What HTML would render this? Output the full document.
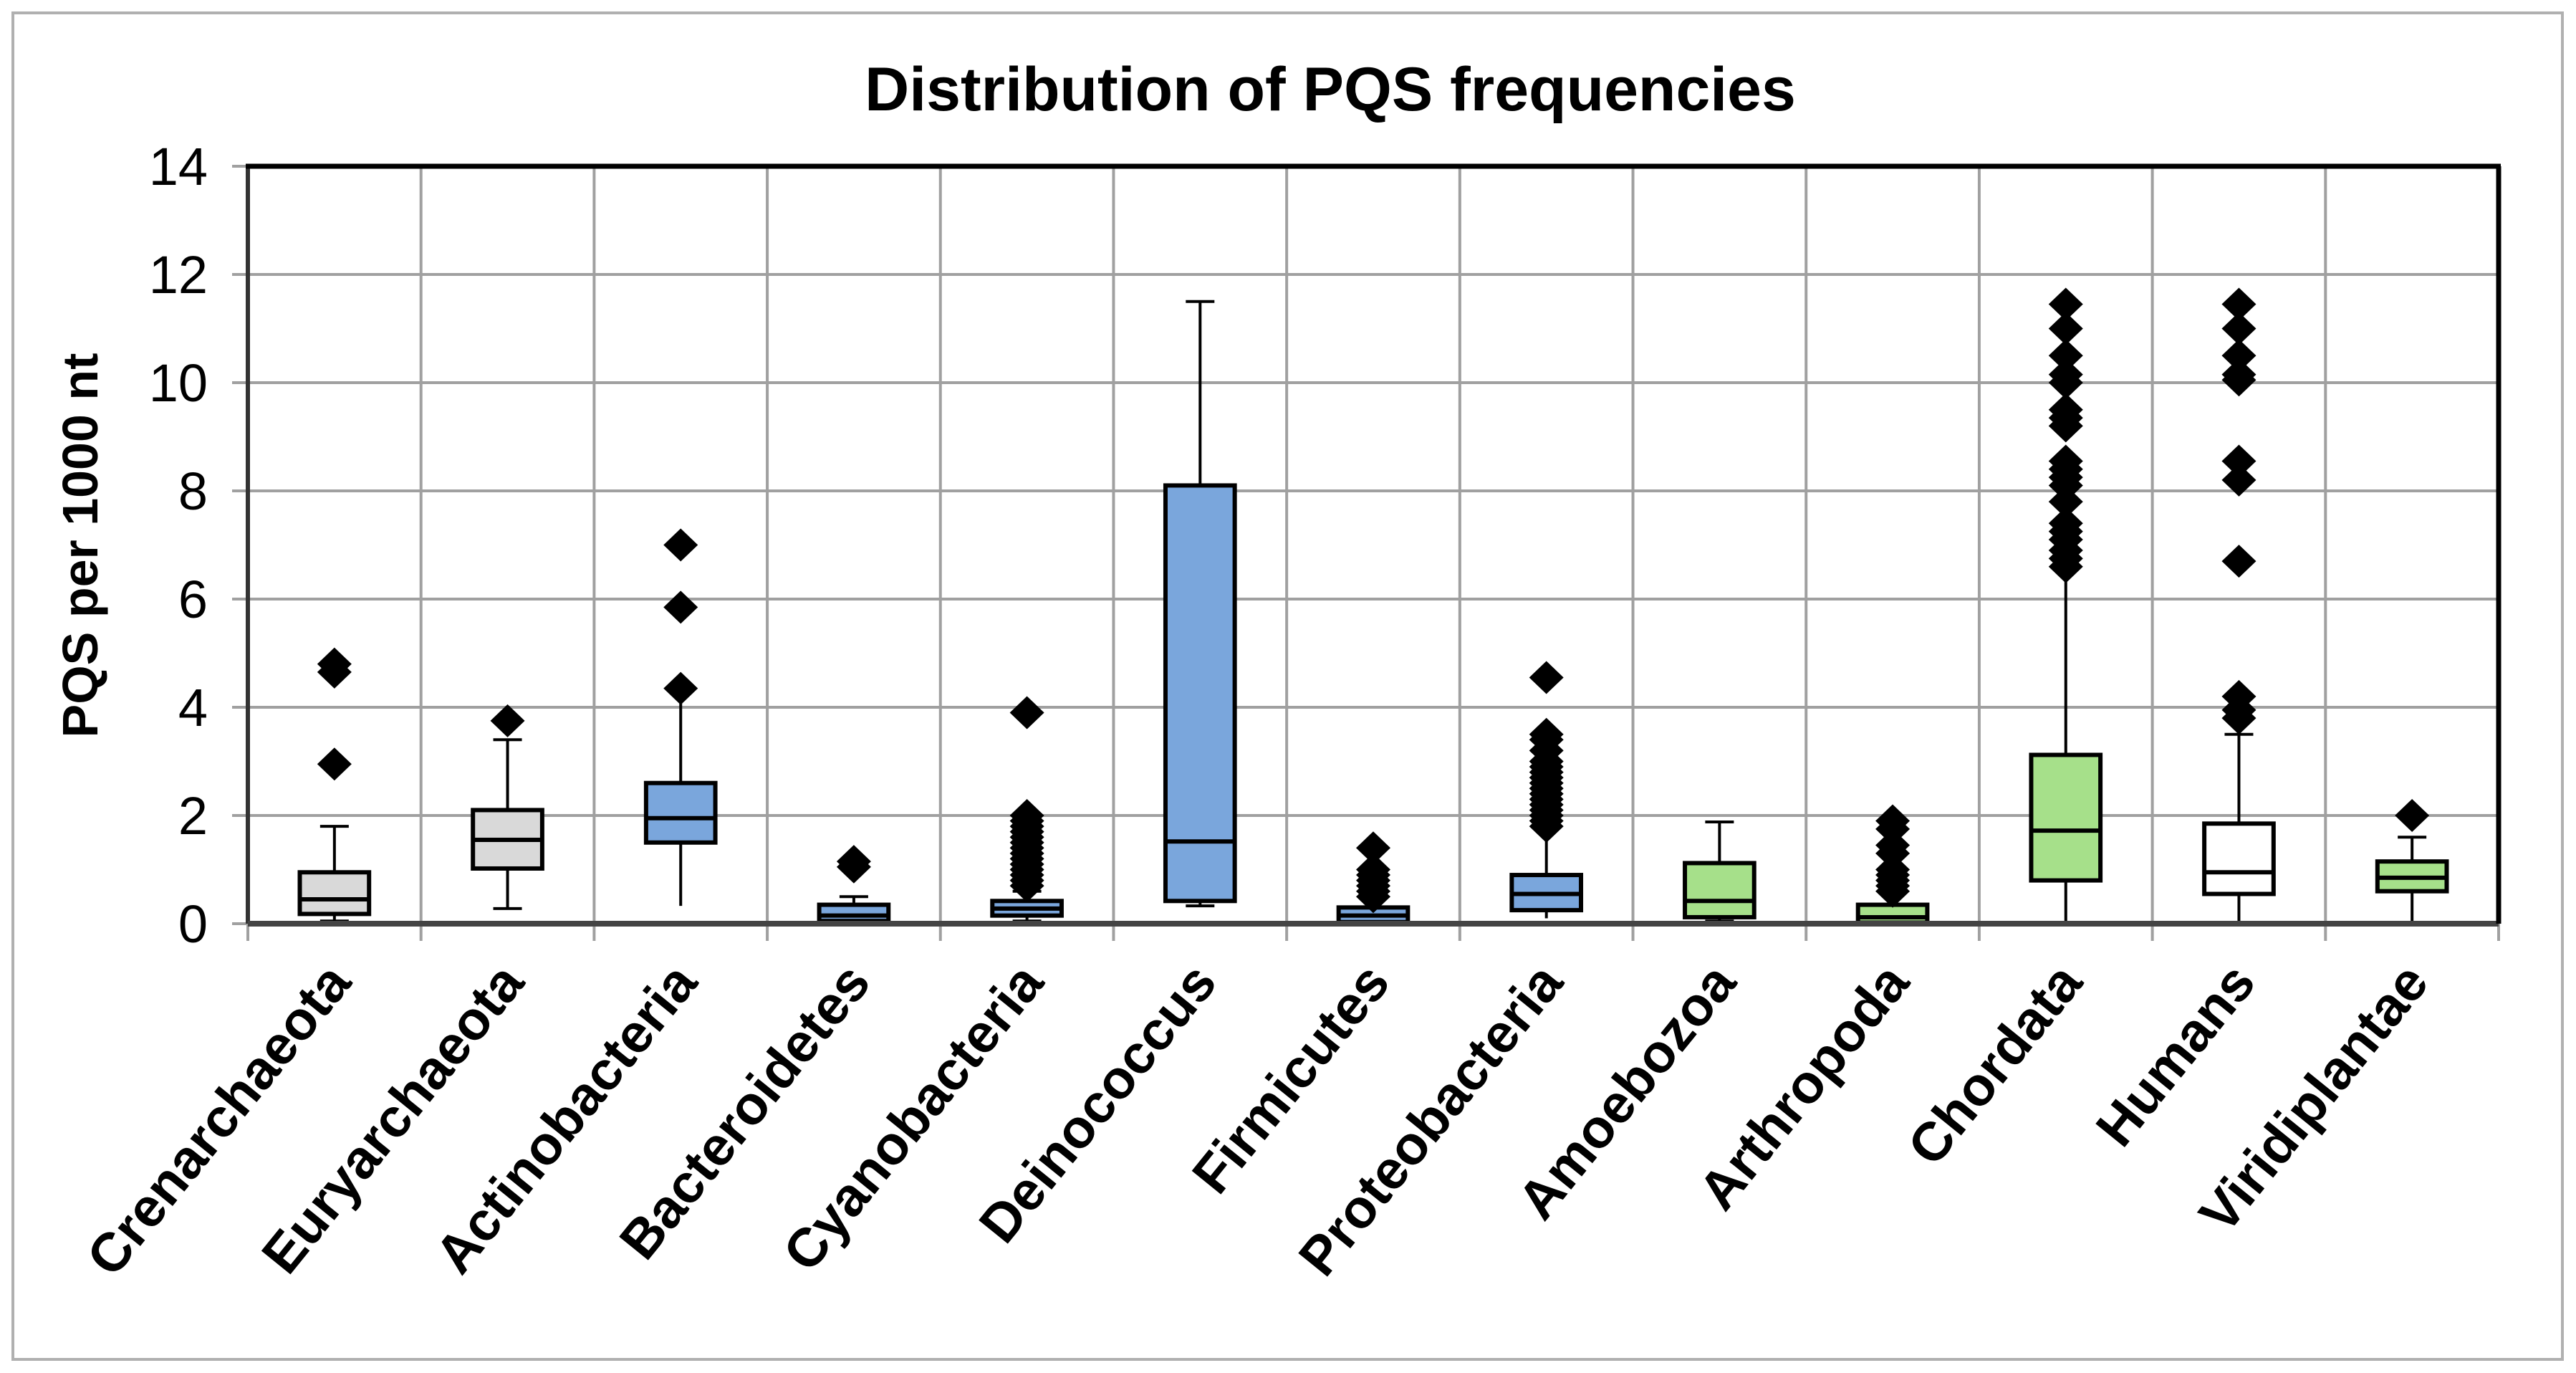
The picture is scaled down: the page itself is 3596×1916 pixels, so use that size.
<!DOCTYPE html>
<html><head><meta charset="utf-8"><style>
html,body{margin:0;padding:0;background:#fff;}
svg{display:block;font-family:"Liberation Sans",sans-serif;}
</style></head><body>
<svg id="chart" width="3596" height="1916" viewBox="0 0 3596 1916" xmlns="http://www.w3.org/2000/svg">
<rect x="18" y="18" width="3559" height="1879" fill="#fff" stroke="#b0b0b0" stroke-width="4"/>
<text x="1857" y="154" text-anchor="middle" font-size="86" font-weight="bold">Distribution of PQS frequencies</text>
<text transform="translate(136,761) rotate(-90)" text-anchor="middle" font-size="70" font-weight="bold">PQS per 1000 nt</text>
<g id="grid"></g>
<g id="boxes"></g>
<g id="axes"></g>
</svg>
<script>
const categories = ["Crenarchaeota","Euryarchaeota","Actinobacteria","Bacteroidetes","Cyanobacteria","Deinococcus","Firmicutes","Proteobacteria","Amoebozoa","Arthropoda","Chordata","Humans","Viridiplantae"];
const whiskerLow = [0.05,0.28,0.33,0.0,0.05,0.33,0.0,0.1,0.05,0.0,0.0,0.0,0.0];
const q1Values   = [0.18,1.02,1.5,0.05,0.15,0.42,0.03,0.25,0.12,0.02,0.8,0.55,0.6];
const medians    = [0.45,1.55,1.95,0.15,0.28,1.52,0.15,0.55,0.42,0.12,1.72,0.95,0.85];
const q3Values   = [0.95,2.1,2.6,0.35,0.42,8.1,0.3,0.9,1.12,0.35,3.12,1.85,1.15];
const whiskerHigh= [1.8,3.4,4.1,0.5,0.6,11.5,0.4,1.6,1.88,0.45,6.55,3.5,1.6];
const hasCap     = [true,true,false,true,true,true,false,false,true,false,false,true,true];
const outliers = [
 [2.95,4.65,4.8],
 [3.75],
 [4.35,5.85,7.0],
 [1.05,1.15],
 [0.7,0.8,0.9,1.0,1.1,1.2,1.3,1.4,1.5,1.6,1.7,1.8,1.9,2.0,3.9],
 [],
 [0.5,0.6,0.7,0.8,0.9,1.0,1.4],
 [1.8,1.9,2.0,2.1,2.2,2.3,2.4,2.5,2.6,2.7,2.8,2.9,3.0,3.2,3.4,3.5,4.55],
 [],
 [0.6,0.7,0.8,0.9,1.0,1.3,1.45,1.75,1.9],
 [6.6,6.75,6.9,7.1,7.25,7.4,7.8,8.1,8.25,8.4,8.55,9.2,9.35,9.5,10.0,10.15,10.5,11.0,11.45],
 [3.8,3.95,4.2,6.7,8.2,8.55,10.05,10.15,10.5,11.0,11.45],
 [2.0]
];
const fillColors = ["#d9d9d9","#d9d9d9","#7aa6dc","#7aa6dc","#7aa6dc","#7aa6dc","#7aa6dc","#7aa6dc","#a6e08a","#a6e08a","#a6e08a","#ffffff","#a6e08a"];
const yTicks = [0,2,4,6,8,10,12,14];

const NS="http://www.w3.org/2000/svg";
const L=346, R=3488, T=232, B=1289, YMAX=14;
const bw=(R-L)/categories.length;
function y(v){return B-(v/YMAX)*(B-T);}
function xc(i){return L+bw*(i+0.5);}
function mk(tag,attrs,parent){const e=document.createElementNS(NS,tag);for(const k in attrs)e.setAttribute(k,attrs[k]);parent.appendChild(e);return e;}
const grid=document.getElementById('grid'),boxes=document.getElementById('boxes'),axes=document.getElementById('axes');

yTicks.forEach(t=>{
  const g=mk('line',{x1:L-22,x2:R,y1:y(t),y2:y(t),stroke:'#a0a0a0','stroke-width':4},grid);
  
  
  const tx=mk('text',{x:290,y:y(t)+26,'text-anchor':'end','font-size':74},axes);
  tx.textContent=t;
  
  
});
for(let i=1;i<=categories.length;i++){
  const xx=L+bw*i;
  const g=mk('line',{x1:xx,x2:xx,y1:T,y2:B+24,stroke:'#a0a0a0','stroke-width':4},grid);
  
  
}
const t0=mk('line',{x1:L,x2:L,y1:B,y2:B+24,stroke:'#a0a0a0','stroke-width':4},grid);



categories.forEach((c,i)=>{
  const g=mk('g',{},boxes);
  
  
  const cx=xc(i), hw=bw*0.2;
  mk('line',{x1:cx,x2:cx,y1:y(whiskerLow[i]),y2:y(q1Values[i]),stroke:'#000','stroke-width':4},g);
  mk('line',{x1:cx,x2:cx,y1:y(q3Values[i]),y2:y(whiskerHigh[i]),stroke:'#000','stroke-width':4},g);
  if(hasCap[i]){
    mk('line',{x1:cx-20,x2:cx+20,y1:y(whiskerHigh[i]),y2:y(whiskerHigh[i]),stroke:'#000','stroke-width':4},g);
    mk('line',{x1:cx-20,x2:cx+20,y1:y(whiskerLow[i]),y2:y(whiskerLow[i]),stroke:'#000','stroke-width':4},g);
  }
  const bx=mk('rect',{x:cx-hw,y:y(q3Values[i]),width:2*hw,height:y(q1Values[i])-y(q3Values[i]),fill:fillColors[i],stroke:'#000','stroke-width':6},g);
  
  
  const md=mk('line',{x1:cx-hw,x2:cx+hw,y1:y(medians[i]),y2:y(medians[i]),stroke:'#000','stroke-width':6},g);
  
  
  outliers[i].forEach(v=>{
    const yy=y(v);
    const p=mk('polygon',{points:`${cx-24},${yy} ${cx},${yy-23} ${cx+24},${yy} ${cx},${yy+23}`,fill:'#000'},g);
    
    
  });
  const lb=mk('text',{transform:`translate(${cx+26},${1372}) rotate(-51)`,'text-anchor':'end','font-size':76,'font-weight':'bold'},axes);
  lb.textContent=c;
  
  
});

const ax1=mk('line',{x1:L,x2:L,y1:T,y2:B,stroke:'#333','stroke-width':6},axes);


const ax2=mk('line',{x1:L,x2:R,y1:B,y2:B,stroke:'#444','stroke-width':8},axes);


const ax3=mk('line',{x1:L-3,x2:R+3,y1:T,y2:T,stroke:'#000','stroke-width':7},axes);


const ax4=mk('line',{x1:R,x2:R,y1:T,y2:B,stroke:'#000','stroke-width':7},axes);


</script>
</body></html>
